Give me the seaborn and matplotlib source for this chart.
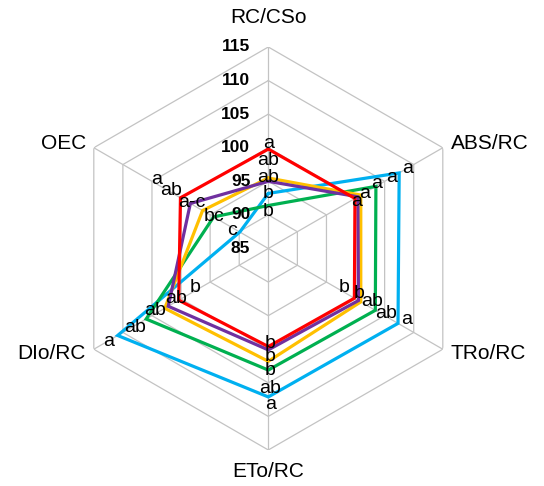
import numpy as np
import pandas as pd
import matplotlib
matplotlib.use("Agg")
import matplotlib.pyplot as plt
import seaborn as sns

# Radar axes, clockwise from the top
axis_labels = ["RC/CSo", "ABS/RC", "TRo/RC", "ETo/RC", "DIo/RC", "OEC"]
ring_values = [85, 90, 95, 100, 105, 110, 115]

# Relative values (% of control) for each treatment
red_values = [99.8, 99.9, 99.8, 99.6, 100.4, 100.1]
purple_values = [95.0, 100.4, 100.5, 100.1, 102.2, 98.4]
yellow_values = [95.5, 100.9, 100.9, 101.8, 102.8, 96.3]
green_values = [91.4, 103.5, 103.4, 103.1, 106.0, 94.4]
blue_values = [93.2, 107.5, 107.3, 107.1, 110.9, 89.9]

# Significance letters per treatment and axis
red_letters = ["a", "a", "b", "b", "b", "a"]
purple_letters = ["ab", "a", "b", "b", "ab", "ab"]
yellow_letters = ["ab", "a", "ab", "b", "ab", "a-c"]
green_letters = ["b", "a", "ab", "ab", "ab", "bc"]
blue_letters = ["b", "a", "a", "a", "a", "c"]

series_colors = {
    "red": "#ff0000",
    "purple": "#7030a0",
    "yellow": "#ffc000",
    "green": "#00b050",
    "blue": "#00b0f0",
}
series_values = {
    "red": red_values,
    "purple": purple_values,
    "yellow": yellow_values,
    "green": green_values,
    "blue": blue_values,
}
series_letters = {
    "red": red_letters,
    "purple": purple_letters,
    "yellow": yellow_letters,
    "green": green_letters,
    "blue": blue_letters,
}
# Letter placement relative to each vertex (pixels: right, up)
letter_offsets = {
    "red": [(0, 6), (2, -3), (-10, 11), (2, 3), (16, 13), (-24, 18)],
    "purple": [(0, 4), (7, 3), (1, 7), (2, -7), (8, 8), (-19, 13)],
    "yellow": [(0, 17), (31, 18), (11, 0), (2, -9), (-10, -2), (-11, 8)],
    "green": [(0, -6), (1, 3), (11, -3), (2, -18), (-11, -8), (0, 0)],
    "blue": [(0, 0), (8, 4), (9, 4), (2, -8), (-9, -6), (-8, 2)],
}
draw_order = ["blue", "green", "yellow", "purple", "red"]

sns.set_theme(style="white")
plt.rcParams["font.family"] = ["Liberation Sans", "DejaVu Sans"]

n = len(axis_labels)
theta = np.arange(n) * 2 * np.pi / n
theta_closed = np.append(theta, 2 * np.pi)

rows = []
for name in draw_order:
    vals = series_values[name]
    for t, v in zip(theta_closed, list(vals) + [vals[0]]):
        rows.append({"theta": t, "value": v, "series": name})
df = pd.DataFrame(rows)

fig = plt.figure(figsize=(5.44, 4.86), dpi=100)
ax = fig.add_axes([0.1228, 0.0741, 0.7408, 0.8292], projection="polar")
ax.set_theta_offset(np.pi / 2)
ax.set_theta_direction(-1)
ax.set_ylim(ring_values[0], ring_values[-1])
ax.grid(False)
ax.set_xticks([])
ax.set_yticks([])
ax.spines["polar"].set_visible(False)
ax.set_facecolor("white")

grid_color = "#c3c3c3"
for rv in ring_values[1:]:
    ax.plot(theta_closed, [rv] * (n + 1), color=grid_color, lw=0.9, zorder=1)
for t in theta:
    ax.plot([t, t], [ring_values[0], ring_values[-1]], color=grid_color, lw=0.9, zorder=1)

sns.lineplot(
    data=df, x="theta", y="value", hue="series", hue_order=draw_order,
    palette=series_colors, sort=False, estimator=None, errorbar=None,
    legend=False, lw=2.3, solid_joinstyle="miter", ax=ax, zorder=2,
)
ax.set_xlabel("")
ax.set_ylabel("")

# Ring value labels along the top axis
for rv in ring_values:
    ax.annotate(str(rv), xy=(0, rv), xytext=(-18, 0), textcoords="offset pixels",
                ha="right", va="center", fontsize=12.5, fontweight="bold",
                color="black", zorder=6)

# Axis names
label_offsets = [(0, 29), (8, 4), (8, -4), (0, -22), (-8, -4), (-8, 4)]
label_ha = ["center", "left", "left", "center", "right", "right"]
for j, lab in enumerate(axis_labels):
    ax.annotate(lab, xy=(theta[j], ring_values[-1]), xytext=label_offsets[j],
                textcoords="offset pixels", ha=label_ha[j], va="center",
                fontsize=15, color="black", annotation_clip=False)

# Significance letters
for name in draw_order:
    for j in range(n):
        ax.annotate(series_letters[name][j], xy=(theta[j], series_values[name][j]),
                    xytext=letter_offsets[name][j], textcoords="offset pixels",
                    ha="center", va="center", fontsize=14, color="black", zorder=5)

fig.savefig("out.png", dpi=100, facecolor="white")
